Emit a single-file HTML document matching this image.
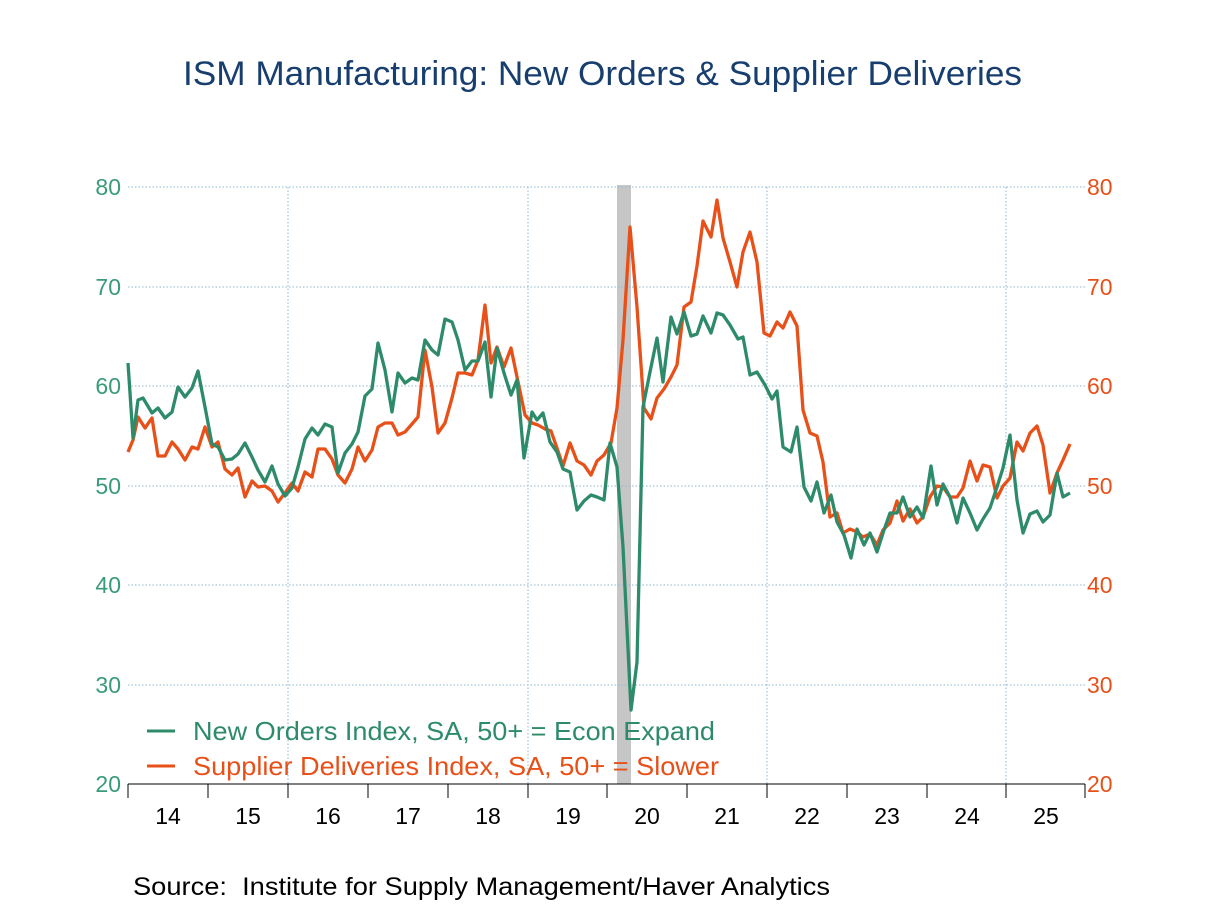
<!DOCTYPE html>
<html><head><meta charset="utf-8"><style>
body{margin:0;background:#fff;}
svg{display:block;font-family:"Liberation Sans",Arial,sans-serif;}
</style></head><body>
<svg width="1208" height="906" viewBox="0 0 1208 906" xmlns="http://www.w3.org/2000/svg">
<rect width="1208" height="906" fill="#fff"/>
<text x="183" y="85" font-size="34" fill="#173e6e" textLength="839" lengthAdjust="spacingAndGlyphs">ISM Manufacturing: New Orders &amp; Supplier Deliveries</text>
<rect x="617" y="185" width="14" height="599" fill="#c6c6c6"/>
<g stroke="#8fb6d0" stroke-width="1" stroke-dasharray="1.5,2" fill="none">
<line x1="128" y1="187" x2="1085" y2="187"/>
<line x1="128" y1="287" x2="1085" y2="287"/>
<line x1="128" y1="386" x2="1085" y2="386"/>
<line x1="128" y1="486" x2="1085" y2="486"/>
<line x1="128" y1="585" x2="1085" y2="585"/>
<line x1="128" y1="685" x2="1085" y2="685"/>
<line x1="288" y1="187" x2="288" y2="784"/>
<line x1="528" y1="187" x2="528" y2="784"/>
<line x1="767" y1="187" x2="767" y2="784"/>
<line x1="1006" y1="187" x2="1006" y2="784"/>
</g>
<g stroke="#000" stroke-width="1">
<line x1="128" y1="784" x2="1085" y2="784"/>
<line x1="128" y1="784" x2="128" y2="798"/><line x1="208" y1="784" x2="208" y2="798"/>
<line x1="288" y1="784" x2="288" y2="798"/><line x1="368" y1="784" x2="368" y2="798"/>
<line x1="448" y1="784" x2="448" y2="798"/><line x1="528" y1="784" x2="528" y2="798"/>
<line x1="607" y1="784" x2="607" y2="798"/><line x1="687" y1="784" x2="687" y2="798"/>
<line x1="767" y1="784" x2="767" y2="798"/><line x1="847" y1="784" x2="847" y2="798"/>
<line x1="927" y1="784" x2="927" y2="798"/><line x1="1006" y1="784" x2="1006" y2="798"/>
<line x1="1085" y1="784" x2="1085" y2="798"/>
</g>
<g font-size="23" fill="#000" text-anchor="middle">
<text x="168" y="824">14</text><text x="248" y="824">15</text><text x="328" y="824">16</text>
<text x="408" y="824">17</text><text x="488" y="824">18</text><text x="568" y="824">19</text>
<text x="647" y="824">20</text><text x="727" y="824">21</text><text x="807" y="824">22</text>
<text x="887" y="824">23</text><text x="967" y="824">24</text><text x="1046" y="824">25</text>
</g>
<g font-size="23" fill="#3a9b78" text-anchor="end">
<text x="121" y="195">80</text><text x="121" y="295">70</text><text x="121" y="394">60</text>
<text x="121" y="494">50</text><text x="121" y="593">40</text><text x="121" y="693">30</text><text x="121" y="792">20</text>
</g>
<g font-size="23" fill="#e8501a">
<text x="1087" y="195">80</text><text x="1087" y="295">70</text><text x="1087" y="394">60</text>
<text x="1087" y="494">50</text><text x="1087" y="593">40</text><text x="1087" y="693">30</text><text x="1087" y="792">20</text>
</g>
<polyline fill="none" stroke="#e8501a" stroke-width="3.3" stroke-linejoin="round" points="128,452 133,440 138,417 145,428 152,418 158,456 165,456 172,442 178,449 185,460 192,447 198,449 205,427 212,447 218,442 225,469 232,475 238,468 245,497 252,481 258,487 265,486 272,491 278,502 285,493 292,483 298,491 305,472 312,477 318,449 325,449 332,459 338,475 345,483 352,469 358,447 365,461 372,450 378,427 385,423 392,423 398,435 405,432 412,424 418,417 425,350 432,387 438,433 445,423 452,398 458,373 465,373 472,375 478,360 485,305 491,363 497,347 504,367 511,348 517,377 525,415 532,423 538,425 545,429 551,431 557,448 563,466 570,443 577,461 584,465 591,475 597,461 604,455 611,443 617,408 623,340 630,227 637,307 644,408 651,419 657,398 664,389 671,377 677,365 684,307 691,302 697,266 703,221 711,237 717,200 723,238 730,262 737,287 743,252 750,232 757,262 764,333 770,336 777,322 783,328 790,312 797,326 803,410 810,433 817,436 823,462 830,517 837,513 843,533 850,529 857,532 863,537 870,534 877,545 883,530 890,523 897,501 903,521 910,509 917,523 923,517 930,497 937,486 943,487 950,497 957,497 963,488 970,461 977,481 983,465 990,467 997,498 1003,486 1010,478 1017,442 1023,451 1030,433 1037,426 1043,445 1050,493 1057,473 1063,460 1070,444"/>
<polyline fill="none" stroke="#2e8b6a" stroke-width="3.3" stroke-linejoin="round" points="128,363 133,438 138,400 143,398 152,413 158,408 165,418 172,412 178,387 185,397 192,388 198,371 205,407 212,444 218,447 225,460 232,459 238,454 245,443 252,457 258,470 265,482 272,466 278,484 285,496 292,488 298,467 305,439 312,428 318,435 325,424 332,427 338,473 345,453 352,444 358,432 365,396 372,389 378,343 385,370 392,412 398,373 405,383 412,378 418,380 425,340 432,350 438,355 445,319 452,322 458,340 465,370 472,361 478,361 485,342 491,397 497,348 504,373 511,395 517,380 524,458 532,412 537,420 543,413 550,442 557,452 563,469 570,472 577,510 584,501 591,495 597,497 604,500 610,443 617,467 623,547 631,710 637,662 643,407 650,372 657,338 663,382 671,317 677,334 684,312 691,336 697,334 703,316 711,333 717,313 723,315 730,325 738,339 743,337 750,375 757,372 765,385 772,399 777,391 783,447 791,452 797,427 804,487 811,501 817,482 824,513 831,495 837,522 844,535 851,558 857,529 864,545 870,533 877,552 884,530 890,513 897,513 903,497 910,517 917,507 923,518 931,466 937,505 943,484 950,497 957,523 963,498 970,513 977,530 983,519 990,508 997,487 1003,468 1010,435 1017,500 1023,533 1030,514 1037,511 1043,522 1050,515 1057,473 1063,497 1070,493"/>
<line x1="147" y1="731" x2="175" y2="731" stroke="#2e8b6a" stroke-width="3"/>
<line x1="147" y1="766" x2="175" y2="766" stroke="#e8501a" stroke-width="3"/>
<text x="193" y="740" font-size="26" fill="#2e8b6a" textLength="522" lengthAdjust="spacingAndGlyphs">New Orders Index, SA, 50+ = Econ Expand</text>
<text x="193" y="775" font-size="26" fill="#e8501a" textLength="526" lengthAdjust="spacingAndGlyphs">Supplier Deliveries Index, SA, 50+ = Slower</text>
<text x="133" y="895" font-size="25" fill="#000" xml:space="preserve" textLength="697" lengthAdjust="spacingAndGlyphs">Source:  Institute for Supply Management/Haver Analytics</text>
</svg>
</body></html>
